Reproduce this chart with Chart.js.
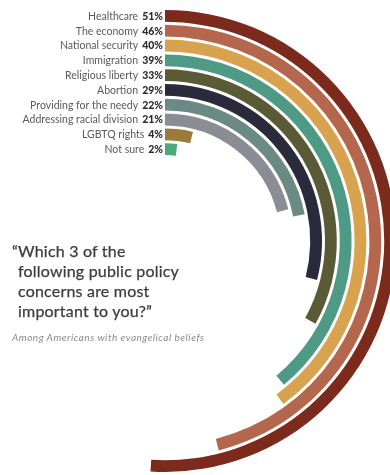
<!DOCTYPE html>
<html>
<head>
<meta charset="utf-8">
<script src="https://cdn.jsdelivr.net/npm/chart.js@4.4.1/dist/chart.umd.min.js"></script>
<style>
  html, body { margin: 0; padding: 0; background: #fff; }
  body { width: 390px; height: 475px; position: relative; overflow: hidden; font-family: Lato, sans-serif; }
  #wrap { position: absolute; left: -66px; top: 10px; width: 462px; height: 462px; }
  .question {
    position: absolute; left: 18px; top: 241px;
    font-size: 16px; line-height: 20px; color: #3c3c3c;
    text-indent: -6px; letter-spacing: 0.2px;
    -webkit-text-stroke: 0.25px #3c3c3c;
  }
  .note {
    position: absolute; left: 12px; top: 331px;
    font-size: 10px; font-style: italic; color: #8a8a8a;
    letter-spacing: 0.5px;
  }
</style>
</head>
<body>
<div id="wrap"><canvas id="rings"></canvas></div>
<div class="question">“Which 3 of the<br>following public policy<br>concerns are most<br>important to you?”</div>
<div class="note">Among Americans with evangelical beliefs</div>

<script>
// survey answers, outermost ring first
const concerns = ['Healthcare', 'The economy', 'National security', 'Immigration', 'Religious liberty',
  'Abortion', 'Providing for the needy', 'Addressing racial division', 'LGBTQ rights', 'Not sure'];
const shares = [51, 46, 40, 39, 33, 29, 22, 21, 4, 2];
const ringColors = ['#7b2a1c', '#b5674e', '#d9a24e', '#4e9a84', '#5b5a36',
  '#2a2a3a', '#6c8a84', '#8c8c95', '#9c7a3a', '#4aaa7a'];

// one doughnut dataset per ring, with a thin empty ring between them
const datasets = [];
concerns.forEach((name, i) => {
  if (i > 0) {
    datasets.push({ data: [100], backgroundColor: ['rgba(0,0,0,0)'], weight: 3, spacer: true });
  }
  datasets.push({
    label: name,
    data: [shares[i], 100 - shares[i]],
    backgroundColor: [ringColors[i], 'rgba(0,0,0,0)'],
    weight: 11.8
  });
});

// category name + bold percentage, right-aligned at the start of each ring
const ringLabels = {
  id: 'ringLabels',
  afterDatasetsDraw(chart) {
    const ctx = chart.ctx;
    ctx.save();
    ctx.textBaseline = 'middle';
    ctx.textAlign = 'right';
    chart.data.datasets.forEach((ds, idx) => {
      if (ds.spacer) return;
      const arc = chart.getDatasetMeta(idx).data[0];
      const y = arc.y - (arc.innerRadius + arc.outerRadius) / 2 + 0.5;
      const x = arc.x - 2;
      const pct = ds.data[0] + '%';
      ctx.font = '900 10.5px Lato';
      ctx.fillStyle = '#2b2b2b';
      ctx.fillText(pct, x, y);
      const w = ctx.measureText(pct).width;
      ctx.font = '400 10.5px Lato';
      ctx.fillStyle = '#5a5a5a';
      ctx.fillText(ds.label, x - w - 4, y);
    });
    ctx.restore();
  }
};

new Chart(document.getElementById('rings'), {
  type: 'doughnut',
  data: { labels: ['share', 'rest'], datasets: datasets },
  options: {
    responsive: true,
    maintainAspectRatio: false,
    animation: false,
    cutout: 86,
    rotation: 0,
    circumference: 360,
    borderWidth: 0,
    hoverOffset: 0,
    layout: { padding: 0 },
    plugins: { legend: { display: false }, tooltip: { enabled: false } }
  },
  plugins: [ringLabels]
});
</script>
</body>
</html>
